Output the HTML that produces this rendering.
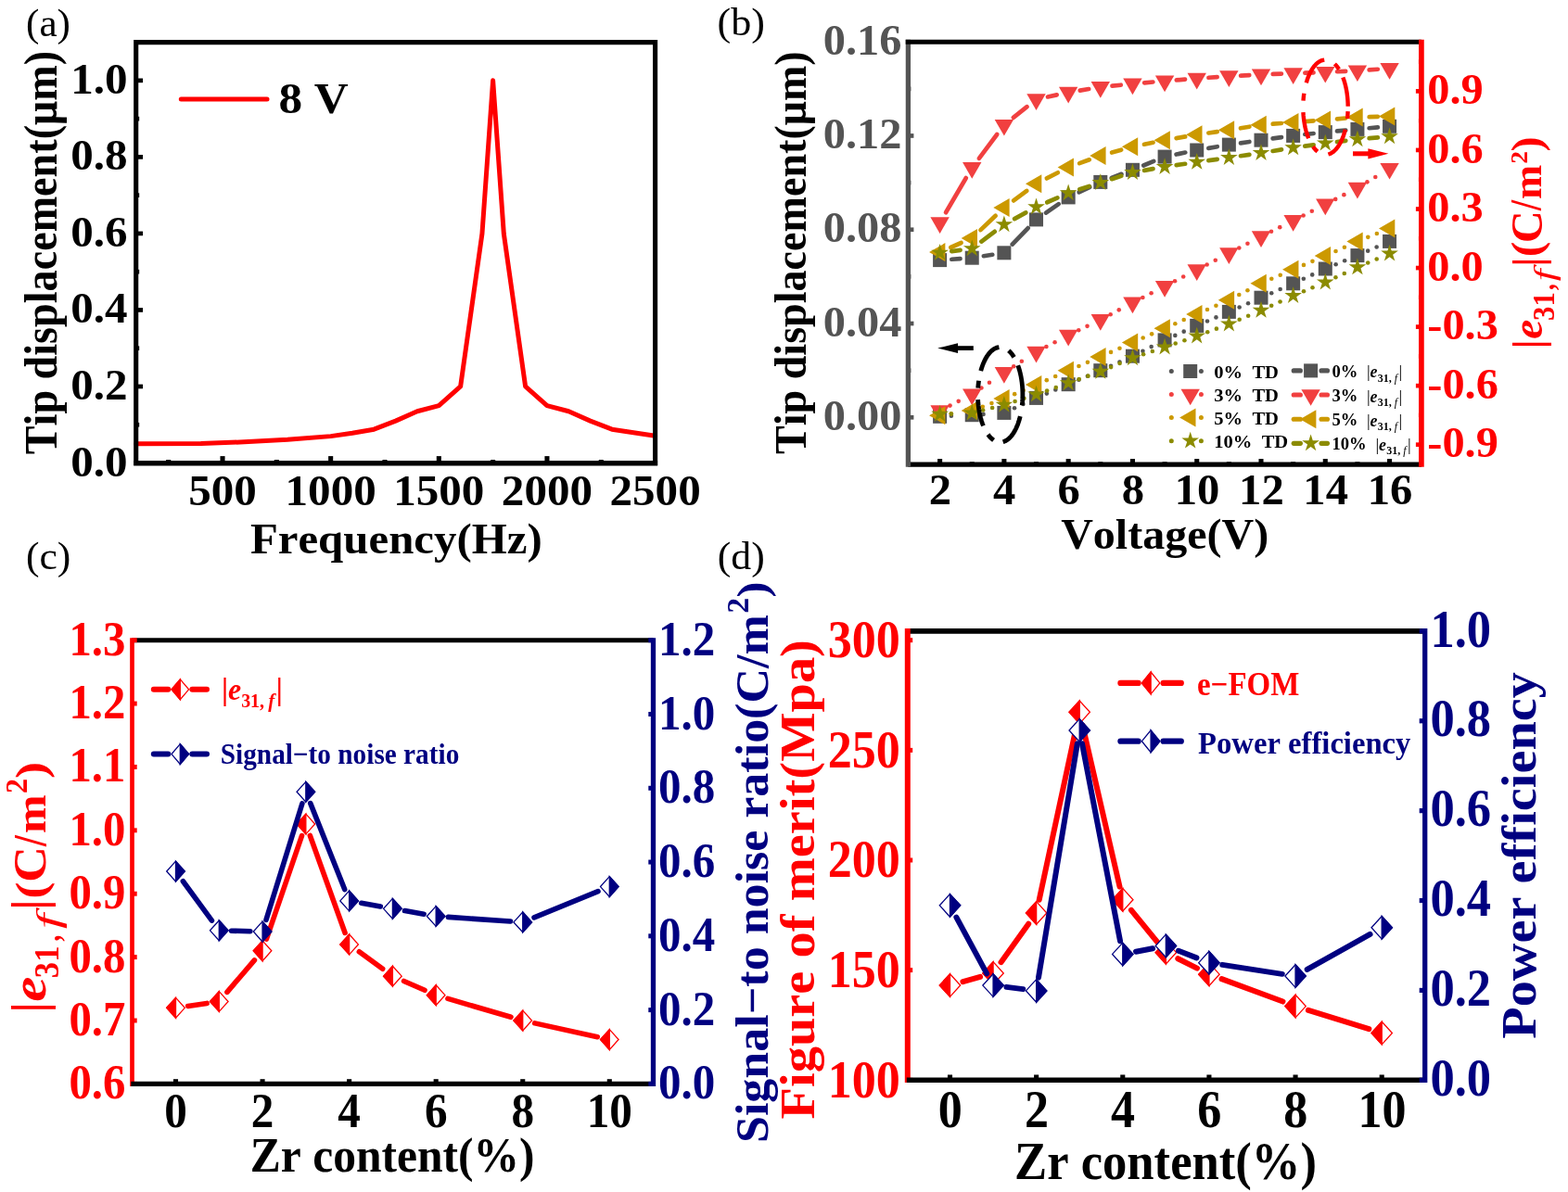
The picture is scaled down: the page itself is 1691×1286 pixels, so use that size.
<!DOCTYPE html>
<html lang="en">
<head>
<meta charset="utf-8">
<title>Figure</title>
<style>
html,body{margin:0;padding:0;background:#fff;}
body{width:1691px;height:1286px;overflow:hidden;}
svg{display:block;}
svg text{font-family:"Liberation Serif","DejaVu Serif",serif;white-space:pre;font-kerning:none;}
</style>
</head>
<body>
<svg width="1691" height="1286" viewBox="0 0 1691 1286">
<rect width="1691" height="1286" fill="#ffffff"/>
<g font-weight="bold" text-anchor="middle" fill="#000">
<polyline points="146.7,478.87 216.69,478.46 263.35,476.81 310,474.33 356.66,470.62 379.99,467.31 403.32,463.19 426.65,454.11 449.98,443.79 473.31,437.6 496.64,416.97 519.97,251.92 531.63,86.86 543.3,251.92 566.62,416.97 589.95,437.6 613.28,443.79 636.61,454.11 659.94,463.19 706.6,470.2" fill="none" stroke="#ff0000" stroke-width="5" stroke-linejoin="round" stroke-linecap="round"/>
<line x1="240.02" y1="499.5" x2="240.02" y2="492.1" stroke="#000000" stroke-width="5.1" />
<line x1="356.66" y1="499.5" x2="356.66" y2="492.1" stroke="#000000" stroke-width="5.1" />
<line x1="473.31" y1="499.5" x2="473.31" y2="492.1" stroke="#000000" stroke-width="5.1" />
<line x1="589.95" y1="499.5" x2="589.95" y2="492.1" stroke="#000000" stroke-width="5.1" />
<line x1="181.69" y1="499.5" x2="181.69" y2="496" stroke="#000000" stroke-width="5.1" />
<line x1="298.34" y1="499.5" x2="298.34" y2="496" stroke="#000000" stroke-width="5.1" />
<line x1="414.99" y1="499.5" x2="414.99" y2="496" stroke="#000000" stroke-width="5.1" />
<line x1="531.63" y1="499.5" x2="531.63" y2="496" stroke="#000000" stroke-width="5.1" />
<line x1="648.28" y1="499.5" x2="648.28" y2="496" stroke="#000000" stroke-width="5.1" />
<line x1="146.7" y1="416.97" x2="154.1" y2="416.97" stroke="#000000" stroke-width="4.7" />
<line x1="146.7" y1="334.45" x2="154.1" y2="334.45" stroke="#000000" stroke-width="4.7" />
<line x1="146.7" y1="251.92" x2="154.1" y2="251.92" stroke="#000000" stroke-width="4.7" />
<line x1="146.7" y1="169.39" x2="154.1" y2="169.39" stroke="#000000" stroke-width="4.7" />
<line x1="146.7" y1="86.86" x2="154.1" y2="86.86" stroke="#000000" stroke-width="4.7" />
<line x1="146.7" y1="458.24" x2="150.2" y2="458.24" stroke="#000000" stroke-width="4.7" />
<line x1="146.7" y1="375.71" x2="150.2" y2="375.71" stroke="#000000" stroke-width="4.7" />
<line x1="146.7" y1="293.18" x2="150.2" y2="293.18" stroke="#000000" stroke-width="4.7" />
<line x1="146.7" y1="210.65" x2="150.2" y2="210.65" stroke="#000000" stroke-width="4.7" />
<line x1="146.7" y1="128.13" x2="150.2" y2="128.13" stroke="#000000" stroke-width="4.7" />
<polygon points="146.7,45.6 706.6,45.6 706.6,499.5 146.7,499.5" fill="none" stroke="#000000" stroke-width="5.1" stroke-linejoin="miter"/>
<line x1="144.15" y1="499.8" x2="709.15" y2="499.8" stroke="#000000" stroke-width="5.6" />
<text transform="translate(240.02 545) scale(1.045 1)" font-size="47">500</text>
<text transform="translate(356.66 545) scale(1.045 1)" font-size="47">1000</text>
<text transform="translate(473.31 545) scale(1.045 1)" font-size="47">1500</text>
<text transform="translate(589.95 545) scale(1.045 1)" font-size="47">2000</text>
<text transform="translate(706.6 545) scale(1.045 1)" font-size="47">2500</text>
<text transform="translate(137.6 513.5) scale(1.045 1)" font-size="47" text-anchor="end">0.0</text>
<text transform="translate(137.6 430.97) scale(1.045 1)" font-size="47" text-anchor="end">0.2</text>
<text transform="translate(137.6 348.45) scale(1.045 1)" font-size="47" text-anchor="end">0.4</text>
<text transform="translate(137.6 265.92) scale(1.045 1)" font-size="47" text-anchor="end">0.6</text>
<text transform="translate(137.6 183.39) scale(1.045 1)" font-size="47" text-anchor="end">0.8</text>
<text transform="translate(137.6 100.86) scale(1.045 1)" font-size="47" text-anchor="end">1.0</text>
<text transform="translate(427.3 596.8) scale(1.04 1)" font-size="47">Frequency(Hz)</text>
<text transform="translate(61.2 272.6) rotate(-90) scale(0.931 1)" font-size="49.6">Tip displacement(μm)</text>
<line x1="195.3" y1="106.9" x2="288" y2="106.9" stroke="#ff0000" stroke-width="5" stroke-linecap="round"/>
<text transform="translate(300.4 122.3) scale(1.1 1)" font-size="46.5" text-anchor="start">8 V</text>
<text transform="translate(28 38.8) scale(1.05 1)" font-size="41.2" text-anchor="start" font-weight="normal">(a)</text>
<g>
<circle cx="1025.89" cy="448.73" r="2.3" fill="#545454"/>
<circle cx="1060.51" cy="446.89" r="2.3" fill="#545454"/>
<circle cx="1094.05" cy="440.24" r="2.3" fill="#545454"/>
<circle cx="1103.4" cy="435.92" r="2.3" fill="#545454"/>
<circle cx="1128.84" cy="424.6" r="2.3" fill="#545454"/>
<circle cx="1138.32" cy="420.57" r="2.3" fill="#545454"/>
<circle cx="1163.45" cy="409.81" r="2.3" fill="#545454"/>
<circle cx="1172.9" cy="405.72" r="2.3" fill="#545454"/>
<circle cx="1198.03" cy="394.68" r="2.3" fill="#545454"/>
<circle cx="1207.43" cy="390.47" r="2.3" fill="#545454"/>
<circle cx="1232.44" cy="378.7" r="2.3" fill="#545454"/>
<circle cx="1241.66" cy="374.1" r="2.3" fill="#545454"/>
<circle cx="1267.31" cy="361.88" r="2.3" fill="#545454"/>
<circle cx="1276.71" cy="357.67" r="2.3" fill="#545454"/>
<circle cx="1302.01" cy="346.51" r="2.3" fill="#545454"/>
<circle cx="1311.46" cy="342.42" r="2.3" fill="#545454"/>
<circle cx="1336.62" cy="331.46" r="2.3" fill="#545454"/>
<circle cx="1346.06" cy="327.32" r="2.3" fill="#545454"/>
<circle cx="1371.24" cy="316.2" r="2.3" fill="#545454"/>
<circle cx="1380.65" cy="312.02" r="2.3" fill="#545454"/>
<circle cx="1405.83" cy="300.7" r="2.3" fill="#545454"/>
<circle cx="1415.2" cy="296.42" r="2.3" fill="#545454"/>
<circle cx="1440.64" cy="285.28" r="2.3" fill="#545454"/>
<circle cx="1450.15" cy="281.32" r="2.3" fill="#545454"/>
<circle cx="1475.18" cy="270.66" r="2.3" fill="#545454"/>
<circle cx="1484.62" cy="266.52" r="2.3" fill="#545454"/>
<rect x="1006.1" y="441.8" width="15" height="15" fill="#545454"/>
<rect x="1040.74" y="440.2" width="15" height="15" fill="#545454"/>
<rect x="1075.38" y="437.9" width="15" height="15" fill="#545454"/>
<rect x="1110.02" y="421.9" width="15" height="15" fill="#545454"/>
<rect x="1144.66" y="407.2" width="15" height="15" fill="#545454"/>
<rect x="1179.3" y="392.2" width="15" height="15" fill="#545454"/>
<rect x="1213.94" y="376.7" width="15" height="15" fill="#545454"/>
<rect x="1248.58" y="359.4" width="15" height="15" fill="#545454"/>
<rect x="1283.22" y="343.9" width="15" height="15" fill="#545454"/>
<rect x="1317.86" y="328.9" width="15" height="15" fill="#545454"/>
<rect x="1352.5" y="313.7" width="15" height="15" fill="#545454"/>
<rect x="1387.14" y="298.3" width="15" height="15" fill="#545454"/>
<rect x="1421.78" y="282.5" width="15" height="15" fill="#545454"/>
<rect x="1456.42" y="268.1" width="15" height="15" fill="#545454"/>
<rect x="1491.06" y="252.9" width="15" height="15" fill="#545454"/>
</g>
<g>
<circle cx="1024.54" cy="437.58" r="2.3" fill="#f14040"/>
<circle cx="1033.7" cy="432.87" r="2.3" fill="#f14040"/>
<circle cx="1058.43" cy="418.51" r="2.3" fill="#f14040"/>
<circle cx="1066.97" cy="412.75" r="2.3" fill="#f14040"/>
<circle cx="1093.21" cy="395.32" r="2.3" fill="#f14040"/>
<circle cx="1101.86" cy="389.73" r="2.3" fill="#f14040"/>
<circle cx="1128.43" cy="373.93" r="2.3" fill="#f14040"/>
<circle cx="1137.57" cy="369.18" r="2.3" fill="#f14040"/>
<circle cx="1163.25" cy="356.28" r="2.3" fill="#f14040"/>
<circle cx="1172.54" cy="351.83" r="2.3" fill="#f14040"/>
<circle cx="1197.65" cy="339.21" r="2.3" fill="#f14040"/>
<circle cx="1206.74" cy="334.35" r="2.3" fill="#f14040"/>
<circle cx="1232.41" cy="320.93" r="2.3" fill="#f14040"/>
<circle cx="1241.59" cy="316.26" r="2.3" fill="#f14040"/>
<circle cx="1267.02" cy="303.28" r="2.3" fill="#f14040"/>
<circle cx="1276.18" cy="298.57" r="2.3" fill="#f14040"/>
<circle cx="1301.63" cy="285.43" r="2.3" fill="#f14040"/>
<circle cx="1310.77" cy="280.68" r="2.3" fill="#f14040"/>
<circle cx="1336.29" cy="267.45" r="2.3" fill="#f14040"/>
<circle cx="1345.44" cy="262.72" r="2.3" fill="#f14040"/>
<circle cx="1371.02" cy="249.73" r="2.3" fill="#f14040"/>
<circle cx="1380.24" cy="245.15" r="2.3" fill="#f14040"/>
<circle cx="1405.62" cy="232.45" r="2.3" fill="#f14040"/>
<circle cx="1414.81" cy="227.81" r="2.3" fill="#f14040"/>
<circle cx="1440.22" cy="214.88" r="2.3" fill="#f14040"/>
<circle cx="1449.38" cy="210.17" r="2.3" fill="#f14040"/>
<circle cx="1474.45" cy="196.35" r="2.3" fill="#f14040"/>
<circle cx="1483.27" cy="191.02" r="2.3" fill="#f14040"/>
<polygon points="1003.4,437.31 1023.8,437.31 1013.6,454.98" fill="#f14040"/>
<polygon points="1038.04,419.51 1058.44,419.51 1048.24,437.18" fill="#f14040"/>
<polygon points="1072.68,396.11 1093.08,396.11 1082.88,413.78" fill="#f14040"/>
<polygon points="1107.32,373.71 1127.72,373.71 1117.52,391.38" fill="#f14040"/>
<polygon points="1141.96,355.71 1162.36,355.71 1152.16,373.38" fill="#f14040"/>
<polygon points="1176.6,339.11 1197,339.11 1186.8,356.78" fill="#f14040"/>
<polygon points="1211.24,320.61 1231.64,320.61 1221.44,338.28" fill="#f14040"/>
<polygon points="1245.88,303.01 1266.28,303.01 1256.08,320.68" fill="#f14040"/>
<polygon points="1280.52,285.21 1300.92,285.21 1290.72,302.88" fill="#f14040"/>
<polygon points="1315.16,267.21 1335.56,267.21 1325.36,284.88" fill="#f14040"/>
<polygon points="1349.8,249.31 1370.2,249.31 1360,266.98" fill="#f14040"/>
<polygon points="1384.44,232.11 1404.84,232.11 1394.64,249.78" fill="#f14040"/>
<polygon points="1419.08,214.61 1439.48,214.61 1429.28,232.28" fill="#f14040"/>
<polygon points="1453.72,196.81 1474.12,196.81 1463.92,214.48" fill="#f14040"/>
<polygon points="1488.36,175.91 1508.76,175.91 1498.56,193.58" fill="#f14040"/>
</g>
<g>
<circle cx="1025.76" cy="446.37" r="2.3" fill="#cc9900"/>
<circle cx="1059.76" cy="438.68" r="2.3" fill="#cc9900"/>
<circle cx="1069.4" cy="435.06" r="2.3" fill="#cc9900"/>
<circle cx="1094.18" cy="425.14" r="2.3" fill="#cc9900"/>
<circle cx="1103.64" cy="421.07" r="2.3" fill="#cc9900"/>
<circle cx="1128.77" cy="410.13" r="2.3" fill="#cc9900"/>
<circle cx="1138.19" cy="405.97" r="2.3" fill="#cc9900"/>
<circle cx="1163.46" cy="394.94" r="2.3" fill="#cc9900"/>
<circle cx="1172.92" cy="390.87" r="2.3" fill="#cc9900"/>
<circle cx="1198.04" cy="379.9" r="2.3" fill="#cc9900"/>
<circle cx="1207.45" cy="375.72" r="2.3" fill="#cc9900"/>
<circle cx="1232.69" cy="364.53" r="2.3" fill="#cc9900"/>
<circle cx="1242.11" cy="360.37" r="2.3" fill="#cc9900"/>
<circle cx="1267.33" cy="349.23" r="2.3" fill="#cc9900"/>
<circle cx="1276.75" cy="345.07" r="2.3" fill="#cc9900"/>
<circle cx="1301.98" cy="333.96" r="2.3" fill="#cc9900"/>
<circle cx="1311.42" cy="329.82" r="2.3" fill="#cc9900"/>
<circle cx="1336.27" cy="318.03" r="2.3" fill="#cc9900"/>
<circle cx="1345.41" cy="313.28" r="2.3" fill="#cc9900"/>
<circle cx="1371.29" cy="300.81" r="2.3" fill="#cc9900"/>
<circle cx="1380.74" cy="296.72" r="2.3" fill="#cc9900"/>
<circle cx="1405.96" cy="285.9" r="2.3" fill="#cc9900"/>
<circle cx="1415.44" cy="281.87" r="2.3" fill="#cc9900"/>
<circle cx="1440.51" cy="270.98" r="2.3" fill="#cc9900"/>
<circle cx="1449.91" cy="266.77" r="2.3" fill="#cc9900"/>
<circle cx="1475.31" cy="255.86" r="2.3" fill="#cc9900"/>
<circle cx="1484.85" cy="251.98" r="2.3" fill="#cc9900"/>
<polygon points="1019.37,438.2 1019.37,458.2 1002.05,448.2" fill="#cc9900"/>
<polygon points="1054.01,433 1054.01,453 1036.69,443" fill="#cc9900"/>
<polygon points="1088.65,420 1088.65,440 1071.33,430" fill="#cc9900"/>
<polygon points="1123.29,405.1 1123.29,425.1 1105.97,415.1" fill="#cc9900"/>
<polygon points="1157.93,389.8 1157.93,409.8 1140.61,399.8" fill="#cc9900"/>
<polygon points="1192.57,374.9 1192.57,394.9 1175.25,384.9" fill="#cc9900"/>
<polygon points="1227.21,359.5 1227.21,379.5 1209.89,369.5" fill="#cc9900"/>
<polygon points="1261.85,344.2 1261.85,364.2 1244.53,354.2" fill="#cc9900"/>
<polygon points="1296.49,328.9 1296.49,348.9 1279.17,338.9" fill="#cc9900"/>
<polygon points="1331.13,313.7 1331.13,333.7 1313.81,323.7" fill="#cc9900"/>
<polygon points="1365.77,295.7 1365.77,315.7 1348.45,305.7" fill="#cc9900"/>
<polygon points="1400.41,280.7 1400.41,300.7 1383.09,290.7" fill="#cc9900"/>
<polygon points="1435.05,266 1435.05,286 1417.73,276" fill="#cc9900"/>
<polygon points="1469.69,250.5 1469.69,270.5 1452.37,260.5" fill="#cc9900"/>
<polygon points="1504.33,236.4 1504.33,256.4 1487.01,246.4" fill="#cc9900"/>
</g>
<g>
<circle cx="1025.89" cy="446.44" r="2.3" fill="#8b8b00"/>
<circle cx="1060.15" cy="442.54" r="2.3" fill="#8b8b00"/>
<circle cx="1070.13" cy="439.98" r="2.3" fill="#8b8b00"/>
<circle cx="1094.59" cy="432.95" r="2.3" fill="#8b8b00"/>
<circle cx="1104.4" cy="429.8" r="2.3" fill="#8b8b00"/>
<circle cx="1129.1" cy="421.45" r="2.3" fill="#8b8b00"/>
<circle cx="1138.8" cy="417.98" r="2.3" fill="#8b8b00"/>
<circle cx="1163.75" cy="409.08" r="2.3" fill="#8b8b00"/>
<circle cx="1173.46" cy="405.64" r="2.3" fill="#8b8b00"/>
<circle cx="1198.12" cy="396.1" r="2.3" fill="#8b8b00"/>
<circle cx="1207.6" cy="392.07" r="2.3" fill="#8b8b00"/>
<circle cx="1233.1" cy="382.29" r="2.3" fill="#8b8b00"/>
<circle cx="1242.87" cy="379.02" r="2.3" fill="#8b8b00"/>
<circle cx="1267.7" cy="370.57" r="2.3" fill="#8b8b00"/>
<circle cx="1277.43" cy="367.2" r="2.3" fill="#8b8b00"/>
<circle cx="1302.24" cy="358.28" r="2.3" fill="#8b8b00"/>
<circle cx="1311.88" cy="354.66" r="2.3" fill="#8b8b00"/>
<circle cx="1336.68" cy="344.8" r="2.3" fill="#8b8b00"/>
<circle cx="1346.16" cy="340.77" r="2.3" fill="#8b8b00"/>
<circle cx="1371.18" cy="329.77" r="2.3" fill="#8b8b00"/>
<circle cx="1380.54" cy="325.47" r="2.3" fill="#8b8b00"/>
<circle cx="1405.99" cy="314.25" r="2.3" fill="#8b8b00"/>
<circle cx="1415.49" cy="310.27" r="2.3" fill="#8b8b00"/>
<circle cx="1440.43" cy="299.32" r="2.3" fill="#8b8b00"/>
<circle cx="1449.77" cy="294.97" r="2.3" fill="#8b8b00"/>
<circle cx="1475.22" cy="283.54" r="2.3" fill="#8b8b00"/>
<circle cx="1484.68" cy="279.47" r="2.3" fill="#8b8b00"/>
<polygon points="1013.6,437.1 1015.8,443.87 1022.92,443.87 1017.16,448.06 1019.36,454.83 1013.6,450.64 1007.84,454.83 1010.04,448.06 1004.28,443.87 1011.4,443.87" fill="#8b8b00"/>
<polygon points="1048.24,435.8 1050.44,442.57 1057.56,442.57 1051.8,446.76 1054,453.53 1048.24,449.34 1042.48,453.53 1044.68,446.76 1038.92,442.57 1046.04,442.57" fill="#8b8b00"/>
<polygon points="1082.88,426.9 1085.08,433.67 1092.2,433.67 1086.44,437.86 1088.64,444.63 1082.88,440.44 1077.12,444.63 1079.32,437.86 1073.56,433.67 1080.68,433.67" fill="#8b8b00"/>
<polygon points="1117.52,415.8 1119.72,422.57 1126.84,422.57 1121.08,426.76 1123.28,433.53 1117.52,429.34 1111.76,433.53 1113.96,426.76 1108.2,422.57 1115.32,422.57" fill="#8b8b00"/>
<polygon points="1152.16,403.4 1154.36,410.17 1161.48,410.17 1155.72,414.36 1157.92,421.13 1152.16,416.94 1146.4,421.13 1148.6,414.36 1142.84,410.17 1149.96,410.17" fill="#8b8b00"/>
<polygon points="1186.8,391.1 1189,397.87 1196.12,397.87 1190.36,402.06 1192.56,408.83 1186.8,404.64 1181.04,408.83 1183.24,402.06 1177.48,397.87 1184.6,397.87" fill="#8b8b00"/>
<polygon points="1221.44,376.4 1223.64,383.17 1230.76,383.17 1225,387.36 1227.2,394.13 1221.44,389.94 1215.68,394.13 1217.88,387.36 1212.12,383.17 1219.24,383.17" fill="#8b8b00"/>
<polygon points="1256.08,364.8 1258.28,371.57 1265.4,371.57 1259.64,375.76 1261.84,382.53 1256.08,378.34 1250.32,382.53 1252.52,375.76 1246.76,371.57 1253.88,371.57" fill="#8b8b00"/>
<polygon points="1290.72,352.8 1292.92,359.57 1300.04,359.57 1294.28,363.76 1296.48,370.53 1290.72,366.34 1284.96,370.53 1287.16,363.76 1281.4,359.57 1288.52,359.57" fill="#8b8b00"/>
<polygon points="1325.36,339.8 1327.56,346.57 1334.68,346.57 1328.92,350.76 1331.12,357.53 1325.36,353.34 1319.6,357.53 1321.8,350.76 1316.04,346.57 1323.16,346.57" fill="#8b8b00"/>
<polygon points="1360,325.1 1362.2,331.87 1369.32,331.87 1363.56,336.06 1365.76,342.83 1360,338.64 1354.24,342.83 1356.44,336.06 1350.68,331.87 1357.8,331.87" fill="#8b8b00"/>
<polygon points="1394.64,309.2 1396.84,315.97 1403.96,315.97 1398.2,320.16 1400.4,326.93 1394.64,322.74 1388.88,326.93 1391.08,320.16 1385.32,315.97 1392.44,315.97" fill="#8b8b00"/>
<polygon points="1429.28,294.7 1431.48,301.47 1438.6,301.47 1432.84,305.66 1435.04,312.43 1429.28,308.24 1423.52,312.43 1425.72,305.66 1419.96,301.47 1427.08,301.47" fill="#8b8b00"/>
<polygon points="1463.92,278.6 1466.12,285.37 1473.24,285.37 1467.48,289.56 1469.68,296.33 1463.92,292.14 1458.16,296.33 1460.36,289.56 1454.6,285.37 1461.72,285.37" fill="#8b8b00"/>
<polygon points="1498.56,263.7 1500.76,270.47 1507.88,270.47 1502.12,274.66 1504.32,281.43 1498.56,277.24 1492.8,281.43 1495,274.66 1489.24,270.47 1496.36,270.47" fill="#8b8b00"/>
</g>
<g>
<line x1="1026.32" y1="279.72" x2="1035.52" y2="279.08" stroke="#545454" stroke-width="4.7" stroke-linecap="round"/>
<line x1="1060.84" y1="276.24" x2="1070.28" y2="274.76" stroke="#545454" stroke-width="4.7" stroke-linecap="round"/>
<line x1="1091.73" y1="263.62" x2="1108.67" y2="246.08" stroke="#545454" stroke-width="4.7" stroke-linecap="round"/>
<line x1="1128" y1="229.64" x2="1141.68" y2="220.16" stroke="#545454" stroke-width="4.7" stroke-linecap="round"/>
<line x1="1163.67" y1="207.42" x2="1175.29" y2="201.88" stroke="#545454" stroke-width="4.7" stroke-linecap="round"/>
<line x1="1198.73" y1="191.89" x2="1209.51" y2="187.81" stroke="#545454" stroke-width="4.7" stroke-linecap="round"/>
<line x1="1233.24" y1="178.46" x2="1244.28" y2="173.94" stroke="#545454" stroke-width="4.7" stroke-linecap="round"/>
<line x1="1268.57" y1="166.54" x2="1278.23" y2="164.56" stroke="#545454" stroke-width="4.7" stroke-linecap="round"/>
<line x1="1303.29" y1="159.86" x2="1312.79" y2="158.24" stroke="#545454" stroke-width="4.7" stroke-linecap="round"/>
<line x1="1337.98" y1="154.31" x2="1347.38" y2="152.99" stroke="#545454" stroke-width="4.7" stroke-linecap="round"/>
<line x1="1372.63" y1="149.45" x2="1382.01" y2="148.15" stroke="#545454" stroke-width="4.7" stroke-linecap="round"/>
<line x1="1407.31" y1="145.01" x2="1416.61" y2="143.99" stroke="#545454" stroke-width="4.7" stroke-linecap="round"/>
<line x1="1441.98" y1="141.43" x2="1451.22" y2="140.57" stroke="#545454" stroke-width="4.7" stroke-linecap="round"/>
<line x1="1476.62" y1="138.26" x2="1485.86" y2="137.44" stroke="#545454" stroke-width="4.7" stroke-linecap="round"/>
<rect x="1006.1" y="273.1" width="15" height="15" fill="#545454"/>
<rect x="1040.74" y="270.7" width="15" height="15" fill="#545454"/>
<rect x="1075.38" y="265.3" width="15" height="15" fill="#545454"/>
<rect x="1110.02" y="229.4" width="15" height="15" fill="#545454"/>
<rect x="1144.66" y="205.4" width="15" height="15" fill="#545454"/>
<rect x="1179.3" y="188.9" width="15" height="15" fill="#545454"/>
<rect x="1213.94" y="175.8" width="15" height="15" fill="#545454"/>
<rect x="1248.58" y="161.6" width="15" height="15" fill="#545454"/>
<rect x="1283.22" y="154.5" width="15" height="15" fill="#545454"/>
<rect x="1317.86" y="148.6" width="15" height="15" fill="#545454"/>
<rect x="1352.5" y="143.7" width="15" height="15" fill="#545454"/>
<rect x="1387.14" y="138.9" width="15" height="15" fill="#545454"/>
<rect x="1421.78" y="135.1" width="15" height="15" fill="#545454"/>
<rect x="1456.42" y="131.9" width="15" height="15" fill="#545454"/>
<rect x="1491.06" y="128.8" width="15" height="15" fill="#545454"/>
</g>
<g>
<line x1="1020.04" y1="229.2" x2="1041.8" y2="192" stroke="#f14040" stroke-width="4.7" stroke-linecap="round"/>
<line x1="1055.89" y1="170.8" x2="1075.23" y2="145" stroke="#f14040" stroke-width="4.7" stroke-linecap="round"/>
<line x1="1092.85" y1="126.85" x2="1107.55" y2="115.15" stroke="#f14040" stroke-width="4.7" stroke-linecap="round"/>
<line x1="1129.97" y1="104.47" x2="1139.71" y2="102.33" stroke="#f14040" stroke-width="4.7" stroke-linecap="round"/>
<line x1="1164.75" y1="97.57" x2="1174.21" y2="96.03" stroke="#f14040" stroke-width="4.7" stroke-linecap="round"/>
<line x1="1199.48" y1="92.68" x2="1208.76" y2="91.72" stroke="#f14040" stroke-width="4.7" stroke-linecap="round"/>
<line x1="1234.14" y1="89.3" x2="1243.38" y2="88.5" stroke="#f14040" stroke-width="4.7" stroke-linecap="round"/>
<line x1="1268.79" y1="86.37" x2="1278.01" y2="85.63" stroke="#f14040" stroke-width="4.7" stroke-linecap="round"/>
<line x1="1303.44" y1="83.72" x2="1312.64" y2="83.08" stroke="#f14040" stroke-width="4.7" stroke-linecap="round"/>
<line x1="1338.09" y1="81.54" x2="1347.27" y2="81.06" stroke="#f14040" stroke-width="4.7" stroke-linecap="round"/>
<line x1="1372.74" y1="79.92" x2="1381.9" y2="79.58" stroke="#f14040" stroke-width="4.7" stroke-linecap="round"/>
<line x1="1407.38" y1="78.62" x2="1416.54" y2="78.28" stroke="#f14040" stroke-width="4.7" stroke-linecap="round"/>
<line x1="1442.02" y1="77.25" x2="1451.18" y2="76.85" stroke="#f14040" stroke-width="4.7" stroke-linecap="round"/>
<line x1="1476.64" y1="75.42" x2="1485.84" y2="74.78" stroke="#f14040" stroke-width="4.7" stroke-linecap="round"/>
<polygon points="1003.4,234.31 1023.8,234.31 1013.6,251.98" fill="#f14040"/>
<polygon points="1038.04,175.11 1058.44,175.11 1048.24,192.78" fill="#f14040"/>
<polygon points="1072.68,128.91 1093.08,128.91 1082.88,146.58" fill="#f14040"/>
<polygon points="1107.32,101.31 1127.72,101.31 1117.52,118.98" fill="#f14040"/>
<polygon points="1141.96,93.71 1162.36,93.71 1152.16,111.38" fill="#f14040"/>
<polygon points="1176.6,88.11 1197,88.11 1186.8,105.78" fill="#f14040"/>
<polygon points="1211.24,84.51 1231.64,84.51 1221.44,102.18" fill="#f14040"/>
<polygon points="1245.88,81.51 1266.28,81.51 1256.08,99.18" fill="#f14040"/>
<polygon points="1280.52,78.71 1300.92,78.71 1290.72,96.38" fill="#f14040"/>
<polygon points="1315.16,76.31 1335.56,76.31 1325.36,93.98" fill="#f14040"/>
<polygon points="1349.8,74.51 1370.2,74.51 1360,92.18" fill="#f14040"/>
<polygon points="1384.44,73.21 1404.84,73.21 1394.64,90.88" fill="#f14040"/>
<polygon points="1419.08,71.91 1439.48,71.91 1429.28,89.58" fill="#f14040"/>
<polygon points="1453.72,70.41 1474.12,70.41 1463.92,88.08" fill="#f14040"/>
<polygon points="1488.36,68.01 1508.76,68.01 1498.56,85.68" fill="#f14040"/>
</g>
<g>
<line x1="1025.28" y1="266.98" x2="1036.56" y2="262.02" stroke="#cc9900" stroke-width="4.7" stroke-linecap="round"/>
<line x1="1057.48" y1="248.12" x2="1073.64" y2="232.78" stroke="#cc9900" stroke-width="4.7" stroke-linecap="round"/>
<line x1="1093.12" y1="216.4" x2="1107.28" y2="205.9" stroke="#cc9900" stroke-width="4.7" stroke-linecap="round"/>
<line x1="1128.85" y1="192.45" x2="1140.83" y2="186.25" stroke="#cc9900" stroke-width="4.7" stroke-linecap="round"/>
<line x1="1164.16" y1="176.1" x2="1174.8" y2="172.3" stroke="#cc9900" stroke-width="4.7" stroke-linecap="round"/>
<line x1="1199.08" y1="164.56" x2="1209.16" y2="161.74" stroke="#cc9900" stroke-width="4.7" stroke-linecap="round"/>
<line x1="1233.93" y1="155.74" x2="1243.59" y2="153.76" stroke="#cc9900" stroke-width="4.7" stroke-linecap="round"/>
<line x1="1268.65" y1="149.06" x2="1278.15" y2="147.44" stroke="#cc9900" stroke-width="4.7" stroke-linecap="round"/>
<line x1="1303.34" y1="143.48" x2="1312.74" y2="142.12" stroke="#cc9900" stroke-width="4.7" stroke-linecap="round"/>
<line x1="1337.95" y1="138.27" x2="1347.41" y2="136.73" stroke="#cc9900" stroke-width="4.7" stroke-linecap="round"/>
<line x1="1372.71" y1="133.71" x2="1381.93" y2="132.99" stroke="#cc9900" stroke-width="4.7" stroke-linecap="round"/>
<line x1="1407.35" y1="131.05" x2="1416.57" y2="130.35" stroke="#cc9900" stroke-width="4.7" stroke-linecap="round"/>
<line x1="1441.98" y1="128.3" x2="1451.22" y2="127.5" stroke="#cc9900" stroke-width="4.7" stroke-linecap="round"/>
<line x1="1476.67" y1="126.07" x2="1485.81" y2="125.83" stroke="#cc9900" stroke-width="4.7" stroke-linecap="round"/>
<polygon points="1019.37,262.1 1019.37,282.1 1002.05,272.1" fill="#cc9900"/>
<polygon points="1054.01,246.9 1054.01,266.9 1036.69,256.9" fill="#cc9900"/>
<polygon points="1088.65,214 1088.65,234 1071.33,224" fill="#cc9900"/>
<polygon points="1123.29,188.3 1123.29,208.3 1105.97,198.3" fill="#cc9900"/>
<polygon points="1157.93,170.4 1157.93,190.4 1140.61,180.4" fill="#cc9900"/>
<polygon points="1192.57,158 1192.57,178 1175.25,168" fill="#cc9900"/>
<polygon points="1227.21,148.3 1227.21,168.3 1209.89,158.3" fill="#cc9900"/>
<polygon points="1261.85,141.2 1261.85,161.2 1244.53,151.2" fill="#cc9900"/>
<polygon points="1296.49,135.3 1296.49,155.3 1279.17,145.3" fill="#cc9900"/>
<polygon points="1331.13,130.3 1331.13,150.3 1313.81,140.3" fill="#cc9900"/>
<polygon points="1365.77,124.7 1365.77,144.7 1348.45,134.7" fill="#cc9900"/>
<polygon points="1400.41,122 1400.41,142 1383.09,132" fill="#cc9900"/>
<polygon points="1435.05,119.4 1435.05,139.4 1417.73,129.4" fill="#cc9900"/>
<polygon points="1469.69,116.4 1469.69,136.4 1452.37,126.4" fill="#cc9900"/>
<polygon points="1504.33,115.5 1504.33,135.5 1487.01,125.5" fill="#cc9900"/>
</g>
<g>
<line x1="1026.24" y1="271.06" x2="1035.6" y2="269.84" stroke="#8b8b00" stroke-width="4.7" stroke-linecap="round"/>
<line x1="1058.44" y1="260.55" x2="1072.68" y2="249.85" stroke="#8b8b00" stroke-width="4.7" stroke-linecap="round"/>
<line x1="1094.07" y1="236.09" x2="1106.33" y2="229.41" stroke="#8b8b00" stroke-width="4.7" stroke-linecap="round"/>
<line x1="1129.22" y1="218.23" x2="1140.46" y2="213.37" stroke="#8b8b00" stroke-width="4.7" stroke-linecap="round"/>
<line x1="1164.28" y1="204.35" x2="1174.68" y2="200.95" stroke="#8b8b00" stroke-width="4.7" stroke-linecap="round"/>
<line x1="1198.95" y1="193.14" x2="1209.29" y2="189.86" stroke="#8b8b00" stroke-width="4.7" stroke-linecap="round"/>
<line x1="1234" y1="183.82" x2="1243.52" y2="182.18" stroke="#8b8b00" stroke-width="4.7" stroke-linecap="round"/>
<line x1="1268.69" y1="178.14" x2="1278.11" y2="176.76" stroke="#8b8b00" stroke-width="4.7" stroke-linecap="round"/>
<line x1="1303.35" y1="173.15" x2="1312.73" y2="171.85" stroke="#8b8b00" stroke-width="4.7" stroke-linecap="round"/>
<line x1="1337.97" y1="168.24" x2="1347.39" y2="166.86" stroke="#8b8b00" stroke-width="4.7" stroke-linecap="round"/>
<line x1="1372.59" y1="162.97" x2="1382.05" y2="161.43" stroke="#8b8b00" stroke-width="4.7" stroke-linecap="round"/>
<line x1="1407.27" y1="157.65" x2="1416.65" y2="156.35" stroke="#8b8b00" stroke-width="4.7" stroke-linecap="round"/>
<line x1="1441.93" y1="153.03" x2="1451.27" y2="151.87" stroke="#8b8b00" stroke-width="4.7" stroke-linecap="round"/>
<line x1="1476.62" y1="149.2" x2="1485.86" y2="148.4" stroke="#8b8b00" stroke-width="4.7" stroke-linecap="round"/>
<polygon points="1013.6,262.9 1015.8,269.67 1022.92,269.67 1017.16,273.86 1019.36,280.63 1013.6,276.44 1007.84,280.63 1010.04,273.86 1004.28,269.67 1011.4,269.67" fill="#8b8b00"/>
<polygon points="1048.24,258.4 1050.44,265.17 1057.56,265.17 1051.8,269.36 1054,276.13 1048.24,271.94 1042.48,276.13 1044.68,269.36 1038.92,265.17 1046.04,265.17" fill="#8b8b00"/>
<polygon points="1082.88,232.4 1085.08,239.17 1092.2,239.17 1086.44,243.36 1088.64,250.13 1082.88,245.94 1077.12,250.13 1079.32,243.36 1073.56,239.17 1080.68,239.17" fill="#8b8b00"/>
<polygon points="1117.52,213.5 1119.72,220.27 1126.84,220.27 1121.08,224.46 1123.28,231.23 1117.52,227.04 1111.76,231.23 1113.96,224.46 1108.2,220.27 1115.32,220.27" fill="#8b8b00"/>
<polygon points="1152.16,198.5 1154.36,205.27 1161.48,205.27 1155.72,209.46 1157.92,216.23 1152.16,212.04 1146.4,216.23 1148.6,209.46 1142.84,205.27 1149.96,205.27" fill="#8b8b00"/>
<polygon points="1186.8,187.2 1189,193.97 1196.12,193.97 1190.36,198.16 1192.56,204.93 1186.8,200.74 1181.04,204.93 1183.24,198.16 1177.48,193.97 1184.6,193.97" fill="#8b8b00"/>
<polygon points="1221.44,176.2 1223.64,182.97 1230.76,182.97 1225,187.16 1227.2,193.93 1221.44,189.74 1215.68,193.93 1217.88,187.16 1212.12,182.97 1219.24,182.97" fill="#8b8b00"/>
<polygon points="1256.08,170.2 1258.28,176.97 1265.4,176.97 1259.64,181.16 1261.84,187.93 1256.08,183.74 1250.32,187.93 1252.52,181.16 1246.76,176.97 1253.88,176.97" fill="#8b8b00"/>
<polygon points="1290.72,165.1 1292.92,171.87 1300.04,171.87 1294.28,176.06 1296.48,182.83 1290.72,178.64 1284.96,182.83 1287.16,176.06 1281.4,171.87 1288.52,171.87" fill="#8b8b00"/>
<polygon points="1325.36,160.3 1327.56,167.07 1334.68,167.07 1328.92,171.26 1331.12,178.03 1325.36,173.84 1319.6,178.03 1321.8,171.26 1316.04,167.07 1323.16,167.07" fill="#8b8b00"/>
<polygon points="1360,155.2 1362.2,161.97 1369.32,161.97 1363.56,166.16 1365.76,172.93 1360,168.74 1354.24,172.93 1356.44,166.16 1350.68,161.97 1357.8,161.97" fill="#8b8b00"/>
<polygon points="1394.64,149.6 1396.84,156.37 1403.96,156.37 1398.2,160.56 1400.4,167.33 1394.64,163.14 1388.88,167.33 1391.08,160.56 1385.32,156.37 1392.44,156.37" fill="#8b8b00"/>
<polygon points="1429.28,144.8 1431.48,151.57 1438.6,151.57 1432.84,155.76 1435.04,162.53 1429.28,158.34 1423.52,162.53 1425.72,155.76 1419.96,151.57 1427.08,151.57" fill="#8b8b00"/>
<polygon points="1463.92,140.5 1466.12,147.27 1473.24,147.27 1467.48,151.46 1469.68,158.23 1463.92,154.04 1458.16,158.23 1460.36,151.46 1454.6,147.27 1461.72,147.27" fill="#8b8b00"/>
<polygon points="1498.56,137.5 1500.76,144.27 1507.88,144.27 1502.12,148.46 1504.32,155.23 1498.56,151.04 1492.8,155.23 1495,148.46 1489.24,144.27 1496.36,144.27" fill="#8b8b00"/>
</g>
<polyline points="1428.23,64.57 1426.66,64.85 1425.1,65.35 1423.56,66.06 1422.05,66.99 1420.57,68.12 1419.12,69.45 1417.72,70.98 1416.37,72.7 1415.07,74.6 1413.84,76.67 1412.67,78.91 1411.57,81.31 1410.55,83.85 1409.61,86.53 1408.76,89.33" fill="none" stroke="#ff0000" stroke-width="4.4" stroke-linejoin="round"/>
<polyline points="1406.36,100.73 1406.02,103.31 1405.74,105.93 1405.54,108.57" fill="none" stroke="#ff0000" stroke-width="4.4" stroke-linejoin="round"/>
<polyline points="1405.43,121.05 1405.66,124.49 1406,127.89 1406.44,131.24 1406.99,134.51 1407.65,137.7 1408.4,140.78 1409.26,143.75 1410.2,146.59 1411.24,149.29" fill="none" stroke="#ff0000" stroke-width="4.4" stroke-linejoin="round"/>
<polyline points="1415.97,158.15 1417.13,159.7 1418.33,161.11 1419.56,162.38 1420.83,163.5" fill="none" stroke="#ff0000" stroke-width="4.4" stroke-linejoin="round"/>
<polyline points="1432.45,166.52 1434.09,165.97 1435.71,165.19 1437.29,164.17 1438.84,162.93 1440.35,161.46 1441.81,159.78 1443.21,157.9 1444.54,155.81 1445.8,153.53 1446.99,151.08 1448.1,148.46 1449.11,145.69 1450.04,142.78 1450.87,139.74" fill="none" stroke="#ff0000" stroke-width="4.4" stroke-linejoin="round"/>
<polyline points="1452.98,128.09 1453.26,125.47 1453.46,122.83 1453.61,120.16" fill="none" stroke="#ff0000" stroke-width="4.4" stroke-linejoin="round"/>
<polyline points="1453.7,114.81 1453.62,111.42 1453.43,108.04 1453.14,104.71 1452.74,101.42 1452.24,98.19 1451.64,95.04 1450.95,91.98 1450.16,89.02 1449.27,86.19 1448.31,83.48" fill="none" stroke="#ff0000" stroke-width="4.4" stroke-linejoin="round"/>
<polyline points="1444.06,74.81 1442.94,73.13 1441.78,71.58 1440.58,70.18 1439.34,68.93" fill="none" stroke="#ff0000" stroke-width="4.4" stroke-linejoin="round"/>
<polyline points="1077.43,374.57 1075.83,374.86 1074.25,375.38 1072.68,376.11 1071.14,377.07 1069.63,378.24 1068.17,379.61 1066.75,381.19 1065.38,382.97 1064.07,384.94 1062.82,387.08 1061.65,389.4 1060.55,391.87 1059.53,394.5 1058.59,397.26 1057.74,400.15" fill="none" stroke="#000000" stroke-width="4.8" stroke-linejoin="round"/>
<polyline points="1055.56,410.8 1055.22,413.39 1054.94,416.01 1054.74,418.66" fill="none" stroke="#000000" stroke-width="4.8" stroke-linejoin="round"/>
<polyline points="1054.63,431.16 1054.86,434.61 1055.2,438.02 1055.64,441.37 1056.19,444.65 1056.85,447.84 1057.6,450.93 1058.46,453.91 1059.4,456.75 1060.44,459.46" fill="none" stroke="#000000" stroke-width="4.8" stroke-linejoin="round"/>
<polyline points="1065.52,468.82 1066.67,470.32 1067.86,471.67 1069.09,472.88 1070.34,473.94 1071.62,474.86" fill="none" stroke="#000000" stroke-width="4.8" stroke-linejoin="round"/>
<polyline points="1081.65,476.72 1083.21,476.2 1084.75,475.47 1086.26,474.53 1087.74,473.39 1089.18,472.04 1090.58,470.49 1091.93,468.76 1093.22,466.84 1094.45,464.75 1095.61,462.49 1096.7,460.08 1097.72,457.52 1098.65,454.83 1099.5,452.02 1100.26,449.09" fill="none" stroke="#000000" stroke-width="4.8" stroke-linejoin="round"/>
<polyline points="1102.28,437.34 1102.6,433.89 1102.8,430.41 1102.89,426.9 1102.87,423.39 1102.74,419.89 1102.49,416.42 1102.13,412.99 1101.66,409.62 1101.09,406.33 1100.41,403.13 1099.63,400.03 1098.74,397.06 1097.77,394.22" fill="none" stroke="#000000" stroke-width="4.8" stroke-linejoin="round"/>
<polyline points="1093.6,385.38 1092.51,383.68 1091.38,382.11 1090.21,380.67 1089,379.38 1087.77,378.24" fill="none" stroke="#000000" stroke-width="4.8" stroke-linejoin="round"/>
<line x1="1049.8" y1="375.6" x2="1030.81" y2="375.6" stroke="#000000" stroke-width="4.8" />
<polygon points="1011.1,375.6 1033,370.2 1033,381" fill="#000000"/>
<line x1="1459" y1="165.8" x2="1477.6" y2="165.8" stroke="#ff0000" stroke-width="5" />
<polygon points="1497.4,165.8 1475.4,160.2 1475.4,171.4" fill="#ff0000"/>
<line x1="1013.6" y1="501.1" x2="1013.6" y2="495.1" stroke="#000000" stroke-width="5.1" />
<line x1="1082.88" y1="501.1" x2="1082.88" y2="495.1" stroke="#000000" stroke-width="5.1" />
<line x1="1152.16" y1="501.1" x2="1152.16" y2="495.1" stroke="#000000" stroke-width="5.1" />
<line x1="1221.44" y1="501.1" x2="1221.44" y2="495.1" stroke="#000000" stroke-width="5.1" />
<line x1="1290.72" y1="501.1" x2="1290.72" y2="495.1" stroke="#000000" stroke-width="5.1" />
<line x1="1360" y1="501.1" x2="1360" y2="495.1" stroke="#000000" stroke-width="5.1" />
<line x1="1429.28" y1="501.1" x2="1429.28" y2="495.1" stroke="#000000" stroke-width="5.1" />
<line x1="1498.56" y1="501.1" x2="1498.56" y2="495.1" stroke="#000000" stroke-width="5.1" />
<line x1="1048.24" y1="501.1" x2="1048.24" y2="498.3" stroke="#000000" stroke-width="5.1" />
<line x1="1117.52" y1="501.1" x2="1117.52" y2="498.3" stroke="#000000" stroke-width="5.1" />
<line x1="1186.8" y1="501.1" x2="1186.8" y2="498.3" stroke="#000000" stroke-width="5.1" />
<line x1="1256.08" y1="501.1" x2="1256.08" y2="498.3" stroke="#000000" stroke-width="5.1" />
<line x1="1325.36" y1="501.1" x2="1325.36" y2="498.3" stroke="#000000" stroke-width="5.1" />
<line x1="1394.64" y1="501.1" x2="1394.64" y2="498.3" stroke="#000000" stroke-width="5.1" />
<line x1="1463.92" y1="501.1" x2="1463.92" y2="498.3" stroke="#000000" stroke-width="5.1" />
<line x1="979.4" y1="450.3" x2="985.4" y2="450.3" stroke="#545454" stroke-width="4.7" />
<line x1="979.4" y1="349.02" x2="985.4" y2="349.02" stroke="#545454" stroke-width="4.7" />
<line x1="979.4" y1="247.75" x2="985.4" y2="247.75" stroke="#545454" stroke-width="4.7" />
<line x1="979.4" y1="146.47" x2="985.4" y2="146.47" stroke="#545454" stroke-width="4.7" />
<line x1="979.4" y1="500.94" x2="982.4" y2="500.94" stroke="#545454" stroke-width="4.7" />
<line x1="979.4" y1="399.66" x2="982.4" y2="399.66" stroke="#545454" stroke-width="4.7" />
<line x1="979.4" y1="298.39" x2="982.4" y2="298.39" stroke="#545454" stroke-width="4.7" />
<line x1="979.4" y1="197.11" x2="982.4" y2="197.11" stroke="#545454" stroke-width="4.7" />
<line x1="979.4" y1="95.84" x2="982.4" y2="95.84" stroke="#545454" stroke-width="4.7" />
<line x1="1532.9" y1="98.4" x2="1526.9" y2="98.4" stroke="#ff0000" stroke-width="4.7" />
<line x1="1532.9" y1="161.95" x2="1526.9" y2="161.95" stroke="#ff0000" stroke-width="4.7" />
<line x1="1532.9" y1="225.5" x2="1526.9" y2="225.5" stroke="#ff0000" stroke-width="4.7" />
<line x1="1532.9" y1="289.05" x2="1526.9" y2="289.05" stroke="#ff0000" stroke-width="4.7" />
<line x1="1532.9" y1="352.6" x2="1526.9" y2="352.6" stroke="#ff0000" stroke-width="4.7" />
<line x1="1532.9" y1="416.15" x2="1526.9" y2="416.15" stroke="#ff0000" stroke-width="4.7" />
<line x1="1532.9" y1="479.7" x2="1526.9" y2="479.7" stroke="#ff0000" stroke-width="4.7" />
<line x1="1532.9" y1="130.18" x2="1529.9" y2="130.18" stroke="#ff0000" stroke-width="4.7" />
<line x1="1532.9" y1="193.72" x2="1529.9" y2="193.72" stroke="#ff0000" stroke-width="4.7" />
<line x1="1532.9" y1="257.27" x2="1529.9" y2="257.27" stroke="#ff0000" stroke-width="4.7" />
<line x1="1532.9" y1="320.82" x2="1529.9" y2="320.82" stroke="#ff0000" stroke-width="4.7" />
<line x1="1532.9" y1="384.38" x2="1529.9" y2="384.38" stroke="#ff0000" stroke-width="4.7" />
<line x1="1532.9" y1="447.92" x2="1529.9" y2="447.92" stroke="#ff0000" stroke-width="4.7" />
<line x1="1532.9" y1="66.6" x2="1529.9" y2="66.6" stroke="#ff0000" stroke-width="4.7" />
<line x1="979.4" y1="501.1" x2="1532.9" y2="501.1" stroke="#000000" stroke-width="5.1" />
<line x1="979.4" y1="42.65" x2="979.4" y2="503.65" stroke="#545454" stroke-width="5.3" />
<line x1="976.7" y1="45.2" x2="1532.9" y2="45.2" stroke="#000000" stroke-width="5.1" />
<line x1="1532.9" y1="42.65" x2="1532.9" y2="503.65" stroke="#ff0000" stroke-width="5.7" />
<text transform="translate(1014 543.6) scale(1.035 1)" font-size="47">2</text>
<text transform="translate(1083.28 543.6) scale(1.035 1)" font-size="47">4</text>
<text transform="translate(1152.56 543.6) scale(1.035 1)" font-size="47">6</text>
<text transform="translate(1221.84 543.6) scale(1.035 1)" font-size="47">8</text>
<text transform="translate(1291.12 543.6) scale(1.035 1)" font-size="47">10</text>
<text transform="translate(1360.4 543.6) scale(1.035 1)" font-size="47">12</text>
<text transform="translate(1429.68 543.6) scale(1.035 1)" font-size="47">14</text>
<text transform="translate(1498.96 543.6) scale(1.035 1)" font-size="47">16</text>
<text transform="translate(972.5 463.9) scale(1.03 1)" font-size="47" fill="#545454" text-anchor="end">0.00</text>
<text transform="translate(972.5 362.62) scale(1.03 1)" font-size="47" fill="#545454" text-anchor="end">0.04</text>
<text transform="translate(972.5 261.35) scale(1.03 1)" font-size="47" fill="#545454" text-anchor="end">0.08</text>
<text transform="translate(972.5 160.07) scale(1.03 1)" font-size="47" fill="#545454" text-anchor="end">0.12</text>
<text transform="translate(972.5 58.8) scale(1.03 1)" font-size="47" fill="#545454" text-anchor="end">0.16</text>
<text transform="translate(1539.3 112) scale(1.03 1)" font-size="47" fill="#ff0000" text-anchor="start">0.9</text>
<text transform="translate(1539.3 175.55) scale(1.03 1)" font-size="47" fill="#ff0000" text-anchor="start">0.6</text>
<text transform="translate(1539.3 239.1) scale(1.03 1)" font-size="47" fill="#ff0000" text-anchor="start">0.3</text>
<text transform="translate(1539.3 302.65) scale(1.03 1)" font-size="47" fill="#ff0000" text-anchor="start">0.0</text>
<text transform="translate(1539.3 366.2) scale(1.03 1)" font-size="47" fill="#ff0000" text-anchor="start">-0.3</text>
<text transform="translate(1539.3 429.75) scale(1.03 1)" font-size="47" fill="#ff0000" text-anchor="start">-0.6</text>
<text transform="translate(1539.3 493.3) scale(1.03 1)" font-size="47" fill="#ff0000" text-anchor="start">-0.9</text>
<text transform="translate(1256.2 592.3) scale(1.04 1)" font-size="46.2">Voltage(V)</text>
<text transform="translate(869.4 272.7) rotate(-90) scale(0.93 1)" font-size="49.6">Tip displacement(μm)</text>
<g>
<text transform="translate(1662.71 376.47) rotate(-90) scale(1.000 1)" font-size="46.5" text-anchor="start" fill="#ff0000">|</text>
<text transform="translate(1663 365.76) rotate(-90) scale(1.028 1)" font-size="46.16" text-anchor="start" fill="#ff0000" font-style="italic">e</text>
<text transform="translate(1675.53 345.91) rotate(-90) scale(0.938 1)" font-size="32.89" text-anchor="start" fill="#ff0000">31</text>
<text transform="translate(1675.67 313.01) rotate(-90) scale(0.827 1)" font-size="33.47" text-anchor="start" fill="#ff0000">,</text>
<text transform="translate(1676 303.17) rotate(-90) scale(1.499 1)" font-size="30.75" text-anchor="start" fill="#ff0000" font-weight="normal" font-style="italic">f</text>
<text transform="translate(1662.71 287.87) rotate(-90) scale(1.000 1)" font-size="46.5" text-anchor="start" fill="#ff0000">|</text>
<text transform="translate(1662.44 277.24) rotate(-90) scale(1.081 1)" font-size="46.1" text-anchor="start" fill="#ff0000">(</text>
<text transform="translate(1662.68 262) rotate(-90) scale(0.994 1)" font-size="48.37" text-anchor="start" fill="#ff0000">C</text>
<text transform="translate(1662.18 227.06) rotate(-90) scale(0.829 1)" font-size="48.17" text-anchor="start" fill="#ff0000">/</text>
<text transform="translate(1662.45 215.05) rotate(-90) scale(0.992 1)" font-size="44.99" text-anchor="start" fill="#ff0000">m</text>
<text transform="translate(1646.55 176.7) rotate(-90) scale(1.130 1)" font-size="24.32" text-anchor="start" fill="#ff0000">2</text>
<text transform="translate(1662.13 163.61) rotate(-90) scale(1.057 1)" font-size="45.66" text-anchor="start" fill="#ff0000">)</text>
</g>
<circle cx="1263.3" cy="400.5" r="2.5" fill="#545454"/>
<circle cx="1295.4" cy="400.5" r="2.5" fill="#545454"/>
<rect x="1276.2" y="393" width="15" height="15" fill="#545454"/>
<text transform="translate(1309.3 407.6) scale(1.105 1)" font-size="18.6" text-anchor="start">0%  TD</text>
<line x1="1395.2" y1="399.9" x2="1402.4" y2="399.9" stroke="#545454" stroke-width="5.1" stroke-linecap="round"/>
<line x1="1425" y1="399.9" x2="1431.5" y2="399.9" stroke="#545454" stroke-width="5.1" stroke-linecap="round"/>
<rect x="1406.1" y="392.4" width="15" height="15" fill="#545454"/>
<text transform="translate(1436.5 406.8)" font-size="18.6" text-anchor="start">0%</text>
<text transform="translate(1473.9 407.4)" font-size="18.6" text-anchor="start"><tspan x="0" font-weight="normal">|</tspan><tspan x="3.6" font-style="italic" font-size="17.8">e</tspan><tspan x="11.8" dy="4.3" font-size="12">31,</tspan><tspan x="29.8" font-size="12" font-style="italic" font-weight="normal">f</tspan><tspan x="34.6" dy="-4.3" font-weight="normal">|</tspan></text>
<circle cx="1263.3" cy="425.55" r="2.5" fill="#f14040"/>
<circle cx="1295.4" cy="425.55" r="2.5" fill="#f14040"/>
<polygon points="1273.5,419.66 1293.9,419.66 1283.7,437.33" fill="#f14040"/>
<text transform="translate(1309.3 432.65) scale(1.105 1)" font-size="18.6" text-anchor="start">3%  TD</text>
<line x1="1395.2" y1="426.05" x2="1402.4" y2="426.05" stroke="#f14040" stroke-width="5.1" stroke-linecap="round"/>
<line x1="1425" y1="426.05" x2="1431.5" y2="426.05" stroke="#f14040" stroke-width="5.1" stroke-linecap="round"/>
<polygon points="1403.4,420.16 1423.8,420.16 1413.6,437.83" fill="#f14040"/>
<text transform="translate(1436.5 432.95)" font-size="18.6" text-anchor="start">3%</text>
<text transform="translate(1473.9 433.55)" font-size="18.6" text-anchor="start"><tspan x="0" font-weight="normal">|</tspan><tspan x="3.6" font-style="italic" font-size="17.8">e</tspan><tspan x="11.8" dy="4.3" font-size="12">31,</tspan><tspan x="29.8" font-size="12" font-style="italic" font-weight="normal">f</tspan><tspan x="34.6" dy="-4.3" font-weight="normal">|</tspan></text>
<circle cx="1263.3" cy="450.6" r="2.5" fill="#cc9900"/>
<circle cx="1295.4" cy="450.6" r="2.5" fill="#cc9900"/>
<polygon points="1289.47,440.6 1289.47,460.6 1272.15,450.6" fill="#cc9900"/>
<text transform="translate(1309.3 457.7) scale(1.105 1)" font-size="18.6" text-anchor="start">5%  TD</text>
<line x1="1395.2" y1="452.2" x2="1402.4" y2="452.2" stroke="#cc9900" stroke-width="5.1" stroke-linecap="round"/>
<line x1="1425" y1="452.2" x2="1431.5" y2="452.2" stroke="#cc9900" stroke-width="5.1" stroke-linecap="round"/>
<polygon points="1419.37,442.2 1419.37,462.2 1402.05,452.2" fill="#cc9900"/>
<text transform="translate(1436.5 459.1)" font-size="18.6" text-anchor="start">5%</text>
<text transform="translate(1473.9 459.7)" font-size="18.6" text-anchor="start"><tspan x="0" font-weight="normal">|</tspan><tspan x="3.6" font-style="italic" font-size="17.8">e</tspan><tspan x="11.8" dy="4.3" font-size="12">31,</tspan><tspan x="29.8" font-size="12" font-style="italic" font-weight="normal">f</tspan><tspan x="34.6" dy="-4.3" font-weight="normal">|</tspan></text>
<circle cx="1263.3" cy="475.65" r="2.5" fill="#8b8b00"/>
<circle cx="1295.4" cy="475.65" r="2.5" fill="#8b8b00"/>
<polygon points="1283.7,465.85 1285.9,472.62 1293.02,472.62 1287.26,476.81 1289.46,483.58 1283.7,479.39 1277.94,483.58 1280.14,476.81 1274.38,472.62 1281.5,472.62" fill="#8b8b00"/>
<text transform="translate(1309.3 482.75) scale(1.105 1)" font-size="18.6" text-anchor="start">10%  TD</text>
<line x1="1395.2" y1="478.35" x2="1402.4" y2="478.35" stroke="#8b8b00" stroke-width="5.1" stroke-linecap="round"/>
<line x1="1425" y1="478.35" x2="1431.5" y2="478.35" stroke="#8b8b00" stroke-width="5.1" stroke-linecap="round"/>
<polygon points="1413.6,468.55 1415.8,475.32 1422.92,475.32 1417.16,479.51 1419.36,486.28 1413.6,482.09 1407.84,486.28 1410.04,479.51 1404.28,475.32 1411.4,475.32" fill="#8b8b00"/>
<text transform="translate(1436.5 485.25)" font-size="18.6" text-anchor="start">10%</text>
<text transform="translate(1483.5 485.85)" font-size="18.6" text-anchor="start"><tspan x="0" font-weight="normal">|</tspan><tspan x="3.6" font-style="italic" font-size="17.8">e</tspan><tspan x="11.8" dy="4.3" font-size="12">31,</tspan><tspan x="29.8" font-size="12" font-style="italic" font-weight="normal">f</tspan><tspan x="34.6" dy="-4.3" font-weight="normal">|</tspan></text>
<text transform="translate(773.6 37.8) scale(1.045 1)" font-size="42.2" text-anchor="start" font-weight="normal">(b)</text>
<g>
<line x1="202.66" y1="1085.41" x2="223.12" y2="1082.42" stroke="#ff0000" stroke-width="5.6" stroke-linecap="round"/>
<line x1="244.92" y1="1070.38" x2="274.42" y2="1035.89" stroke="#ff0000" stroke-width="5.6" stroke-linecap="round"/>
<line x1="287.36" y1="1013.2" x2="325.54" y2="901.59" stroke="#ff0000" stroke-width="5.6" stroke-linecap="round"/>
<line x1="334.35" y1="901.51" x2="372.11" y2="1006.43" stroke="#ff0000" stroke-width="5.6" stroke-linecap="round"/>
<line x1="387.36" y1="1026.79" x2="412.66" y2="1045.29" stroke="#ff0000" stroke-width="5.6" stroke-linecap="round"/>
<line x1="435.58" y1="1058.48" x2="458" y2="1068.31" stroke="#ff0000" stroke-width="5.6" stroke-linecap="round"/>
<line x1="482.95" y1="1077.39" x2="550.97" y2="1097.28" stroke="#ff0000" stroke-width="5.6" stroke-linecap="round"/>
<line x1="576.73" y1="1103.86" x2="644.31" y2="1118.68" stroke="#ff0000" stroke-width="5.6" stroke-linecap="round"/>
<polygon points="189.5,1076.43 199.3,1087.33 189.5,1098.23 179.7,1087.33" fill="#fff" stroke="#ff0000" stroke-width="1.3" stroke-linejoin="miter"/>
<polygon points="189.5,1076.43 179.7,1087.33 189.5,1098.23" fill="#ff0000" stroke="#ff0000" stroke-width="1.3" stroke-linejoin="miter"/>
<polygon points="236.28,1069.59 246.08,1080.49 236.28,1091.39 226.48,1080.49" fill="#fff" stroke="#ff0000" stroke-width="1.3" stroke-linejoin="miter"/>
<polygon points="236.28,1069.59 226.48,1080.49 236.28,1091.39" fill="#ff0000" stroke="#ff0000" stroke-width="1.3" stroke-linejoin="miter"/>
<polygon points="283.06,1014.88 292.86,1025.78 283.06,1036.68 273.26,1025.78" fill="#fff" stroke="#ff0000" stroke-width="1.3" stroke-linejoin="miter"/>
<polygon points="283.06,1014.88 273.26,1025.78 283.06,1036.68" fill="#ff0000" stroke="#ff0000" stroke-width="1.3" stroke-linejoin="miter"/>
<polygon points="329.84,878.1 339.64,889 329.84,899.9 320.04,889" fill="#fff" stroke="#ff0000" stroke-width="1.3" stroke-linejoin="miter"/>
<polygon points="329.84,878.1 320.04,889 329.84,899.9" fill="#ff0000" stroke="#ff0000" stroke-width="1.3" stroke-linejoin="miter"/>
<polygon points="376.62,1008.04 386.42,1018.94 376.62,1029.84 366.82,1018.94" fill="#fff" stroke="#ff0000" stroke-width="1.3" stroke-linejoin="miter"/>
<polygon points="376.62,1008.04 366.82,1018.94 376.62,1029.84" fill="#ff0000" stroke="#ff0000" stroke-width="1.3" stroke-linejoin="miter"/>
<polygon points="423.4,1042.24 433.2,1053.14 423.4,1064.04 413.6,1053.14" fill="#fff" stroke="#ff0000" stroke-width="1.3" stroke-linejoin="miter"/>
<polygon points="423.4,1042.24 413.6,1053.14 423.4,1064.04" fill="#ff0000" stroke="#ff0000" stroke-width="1.3" stroke-linejoin="miter"/>
<polygon points="470.18,1062.75 479.98,1073.65 470.18,1084.55 460.38,1073.65" fill="#fff" stroke="#ff0000" stroke-width="1.3" stroke-linejoin="miter"/>
<polygon points="470.18,1062.75 460.38,1073.65 470.18,1084.55" fill="#ff0000" stroke="#ff0000" stroke-width="1.3" stroke-linejoin="miter"/>
<polygon points="563.74,1090.11 573.54,1101.01 563.74,1111.91 553.94,1101.01" fill="#fff" stroke="#ff0000" stroke-width="1.3" stroke-linejoin="miter"/>
<polygon points="563.74,1090.11 553.94,1101.01 563.74,1111.91" fill="#ff0000" stroke="#ff0000" stroke-width="1.3" stroke-linejoin="miter"/>
<polygon points="657.3,1110.63 667.1,1121.53 657.3,1132.43 647.5,1121.53" fill="#fff" stroke="#ff0000" stroke-width="1.3" stroke-linejoin="miter"/>
<polygon points="657.3,1110.63 647.5,1121.53 657.3,1132.43" fill="#ff0000" stroke="#ff0000" stroke-width="1.3" stroke-linejoin="miter"/>
</g>
<g>
<line x1="197.36" y1="950.76" x2="228.42" y2="993.13" stroke="#000080" stroke-width="5.6" stroke-linecap="round"/>
<line x1="249.58" y1="1004.2" x2="269.76" y2="1004.71" stroke="#000080" stroke-width="5.6" stroke-linecap="round"/>
<line x1="287" y1="992.35" x2="325.9" y2="866.97" stroke="#000080" stroke-width="5.6" stroke-linecap="round"/>
<line x1="334.75" y1="866.63" x2="371.71" y2="959.59" stroke="#000080" stroke-width="5.6" stroke-linecap="round"/>
<line x1="389.71" y1="974.29" x2="410.31" y2="977.98" stroke="#000080" stroke-width="5.6" stroke-linecap="round"/>
<line x1="436.5" y1="982.61" x2="457.08" y2="986.21" stroke="#000080" stroke-width="5.6" stroke-linecap="round"/>
<line x1="483.45" y1="989.4" x2="550.47" y2="993.98" stroke="#000080" stroke-width="5.6" stroke-linecap="round"/>
<line x1="576.05" y1="989.84" x2="644.99" y2="961.62" stroke="#000080" stroke-width="5.6" stroke-linecap="round"/>
<polygon points="189.5,929.13 199.3,940.03 189.5,950.93 179.7,940.03" fill="#fff" stroke="#000080" stroke-width="1.3" stroke-linejoin="miter"/>
<polygon points="189.5,929.13 199.3,940.03 189.5,950.93" fill="#000080" stroke="#000080" stroke-width="1.3" stroke-linejoin="miter"/>
<polygon points="236.28,992.96 246.08,1003.86 236.28,1014.76 226.48,1003.86" fill="#fff" stroke="#000080" stroke-width="1.3" stroke-linejoin="miter"/>
<polygon points="236.28,992.96 246.08,1003.86 236.28,1014.76" fill="#000080" stroke="#000080" stroke-width="1.3" stroke-linejoin="miter"/>
<polygon points="283.06,994.15 292.86,1005.05 283.06,1015.95 273.26,1005.05" fill="#fff" stroke="#000080" stroke-width="1.3" stroke-linejoin="miter"/>
<polygon points="283.06,994.15 292.86,1005.05 283.06,1015.95" fill="#000080" stroke="#000080" stroke-width="1.3" stroke-linejoin="miter"/>
<polygon points="329.84,843.37 339.64,854.27 329.84,865.17 320.04,854.27" fill="#fff" stroke="#000080" stroke-width="1.3" stroke-linejoin="miter"/>
<polygon points="329.84,843.37 339.64,854.27 329.84,865.17" fill="#000080" stroke="#000080" stroke-width="1.3" stroke-linejoin="miter"/>
<polygon points="376.62,961.04 386.42,971.94 376.62,982.84 366.82,971.94" fill="#fff" stroke="#000080" stroke-width="1.3" stroke-linejoin="miter"/>
<polygon points="376.62,961.04 386.42,971.94 376.62,982.84" fill="#000080" stroke="#000080" stroke-width="1.3" stroke-linejoin="miter"/>
<polygon points="423.4,969.42 433.2,980.32 423.4,991.22 413.6,980.32" fill="#fff" stroke="#000080" stroke-width="1.3" stroke-linejoin="miter"/>
<polygon points="423.4,969.42 433.2,980.32 423.4,991.22" fill="#000080" stroke="#000080" stroke-width="1.3" stroke-linejoin="miter"/>
<polygon points="470.18,977.6 479.98,988.5 470.18,999.4 460.38,988.5" fill="#fff" stroke="#000080" stroke-width="1.3" stroke-linejoin="miter"/>
<polygon points="470.18,977.6 479.98,988.5 470.18,999.4" fill="#000080" stroke="#000080" stroke-width="1.3" stroke-linejoin="miter"/>
<polygon points="563.74,983.98 573.54,994.88 563.74,1005.78 553.94,994.88" fill="#fff" stroke="#000080" stroke-width="1.3" stroke-linejoin="miter"/>
<polygon points="563.74,983.98 573.54,994.88 563.74,1005.78" fill="#000080" stroke="#000080" stroke-width="1.3" stroke-linejoin="miter"/>
<polygon points="657.3,945.69 667.1,956.59 657.3,967.49 647.5,956.59" fill="#fff" stroke="#000080" stroke-width="1.3" stroke-linejoin="miter"/>
<polygon points="657.3,945.69 667.1,956.59 657.3,967.49" fill="#000080" stroke="#000080" stroke-width="1.3" stroke-linejoin="miter"/>
</g>
<line x1="189.5" y1="1169.4" x2="189.5" y2="1164.2" stroke="#000000" stroke-width="5.1" />
<line x1="283.06" y1="1169.4" x2="283.06" y2="1164.2" stroke="#000000" stroke-width="5.1" />
<line x1="376.62" y1="1169.4" x2="376.62" y2="1164.2" stroke="#000000" stroke-width="5.1" />
<line x1="470.18" y1="1169.4" x2="470.18" y2="1164.2" stroke="#000000" stroke-width="5.1" />
<line x1="563.74" y1="1169.4" x2="563.74" y2="1164.2" stroke="#000000" stroke-width="5.1" />
<line x1="657.3" y1="1169.4" x2="657.3" y2="1164.2" stroke="#000000" stroke-width="5.1" />
<line x1="142.5" y1="690.7" x2="704.5" y2="690.7" stroke="#000000" stroke-width="5.1" />
<line x1="142.5" y1="1169.4" x2="147.7" y2="1169.4" stroke="#ff0000" stroke-width="5" />
<line x1="142.5" y1="1101.01" x2="147.7" y2="1101.01" stroke="#ff0000" stroke-width="5" />
<line x1="142.5" y1="1032.62" x2="147.7" y2="1032.62" stroke="#ff0000" stroke-width="5" />
<line x1="142.5" y1="964.23" x2="147.7" y2="964.23" stroke="#ff0000" stroke-width="5" />
<line x1="142.5" y1="895.84" x2="147.7" y2="895.84" stroke="#ff0000" stroke-width="5" />
<line x1="142.5" y1="827.45" x2="147.7" y2="827.45" stroke="#ff0000" stroke-width="5" />
<line x1="142.5" y1="759.06" x2="147.7" y2="759.06" stroke="#ff0000" stroke-width="5" />
<line x1="142.5" y1="690.67" x2="147.7" y2="690.67" stroke="#ff0000" stroke-width="5" />
<line x1="142.5" y1="688.2" x2="142.5" y2="1171.9" stroke="#ff0000" stroke-width="4.7" />
<line x1="141.3" y1="1169.4" x2="702.1" y2="1169.4" stroke="#000000" stroke-width="5.1" />
<line x1="704.5" y1="1169.4" x2="699.3" y2="1169.4" stroke="#000080" stroke-width="5" />
<line x1="704.5" y1="1089.62" x2="699.3" y2="1089.62" stroke="#000080" stroke-width="5" />
<line x1="704.5" y1="1009.84" x2="699.3" y2="1009.84" stroke="#000080" stroke-width="5" />
<line x1="704.5" y1="930.06" x2="699.3" y2="930.06" stroke="#000080" stroke-width="5" />
<line x1="704.5" y1="850.28" x2="699.3" y2="850.28" stroke="#000080" stroke-width="5" />
<line x1="704.5" y1="770.5" x2="699.3" y2="770.5" stroke="#000080" stroke-width="5" />
<line x1="704.5" y1="690.72" x2="699.3" y2="690.72" stroke="#000080" stroke-width="5" />
<line x1="704.5" y1="688.2" x2="704.5" y2="1171.9" stroke="#000080" stroke-width="5.3" />
<text transform="translate(189.5 1216.4) scale(0.935 1)" font-size="52.6">0</text>
<text transform="translate(283.06 1216.4) scale(0.935 1)" font-size="52.6">2</text>
<text transform="translate(376.62 1216.4) scale(0.935 1)" font-size="52.6">4</text>
<text transform="translate(470.18 1216.4) scale(0.935 1)" font-size="52.6">6</text>
<text transform="translate(563.74 1216.4) scale(0.935 1)" font-size="52.6">8</text>
<text transform="translate(657.3 1216.4) scale(0.935 1)" font-size="52.6">10</text>
<text transform="translate(135.4 1185.4) scale(0.925 1)" font-size="52.7" fill="#ff0000" text-anchor="end">0.6</text>
<text transform="translate(135.4 1117.01) scale(0.925 1)" font-size="52.7" fill="#ff0000" text-anchor="end">0.7</text>
<text transform="translate(135.4 1048.62) scale(0.925 1)" font-size="52.7" fill="#ff0000" text-anchor="end">0.8</text>
<text transform="translate(135.4 980.23) scale(0.925 1)" font-size="52.7" fill="#ff0000" text-anchor="end">0.9</text>
<text transform="translate(135.4 911.84) scale(0.925 1)" font-size="52.7" fill="#ff0000" text-anchor="end">1.0</text>
<text transform="translate(135.4 843.45) scale(0.925 1)" font-size="52.7" fill="#ff0000" text-anchor="end">1.1</text>
<text transform="translate(135.4 775.06) scale(0.925 1)" font-size="52.7" fill="#ff0000" text-anchor="end">1.2</text>
<text transform="translate(135.4 706.67) scale(0.925 1)" font-size="52.7" fill="#ff0000" text-anchor="end">1.3</text>
<text transform="translate(710 1185.4) scale(0.935 1)" font-size="52.4" fill="#000080" text-anchor="start">0.0</text>
<text transform="translate(710 1105.62) scale(0.935 1)" font-size="52.4" fill="#000080" text-anchor="start">0.2</text>
<text transform="translate(710 1025.84) scale(0.935 1)" font-size="52.4" fill="#000080" text-anchor="start">0.4</text>
<text transform="translate(710 946.06) scale(0.935 1)" font-size="52.4" fill="#000080" text-anchor="start">0.6</text>
<text transform="translate(710 866.28) scale(0.935 1)" font-size="52.4" fill="#000080" text-anchor="start">0.8</text>
<text transform="translate(710 786.5) scale(0.935 1)" font-size="52.4" fill="#000080" text-anchor="start">1.0</text>
<text transform="translate(710 706.72) scale(0.935 1)" font-size="52.4" fill="#000080" text-anchor="start">1.2</text>
<text transform="translate(423.1 1264.4) scale(0.929 1)" font-size="53.3">Zr content(%)</text>
<g>
<text transform="translate(49.14 1092.87) rotate(-90) scale(1.000 1)" font-size="53.32" text-anchor="start" fill="#ff0000">|</text>
<text transform="translate(49.23 1080.78) rotate(-90) scale(1.150 1)" font-size="53.02" text-anchor="start" fill="#ff0000" font-style="italic">e</text>
<text transform="translate(63.49 1055.15) rotate(-90) scale(0.933 1)" font-size="37.06" text-anchor="start" fill="#ff0000">31</text>
<text transform="translate(64.36 1015.5) rotate(-90) scale(0.752 1)" font-size="35.46" text-anchor="start" fill="#ff0000">,</text>
<text transform="translate(63.79 1002.22) rotate(-90) scale(1.652 1)" font-size="35.99" text-anchor="start" fill="#ff0000" font-weight="normal" font-style="italic">f</text>
<text transform="translate(49.14 981.92) rotate(-90) scale(1.000 1)" font-size="53.32" text-anchor="start" fill="#ff0000">|</text>
<text transform="translate(48.57 969.65) rotate(-90) scale(1.163 1)" font-size="46.87" text-anchor="start" fill="#ff0000">(</text>
<text transform="translate(49.26 951.67) rotate(-90) scale(1.068 1)" font-size="50.16" text-anchor="start" fill="#ff0000">C</text>
<text transform="translate(49.16 913.03) rotate(-90) scale(0.848 1)" font-size="50.27" text-anchor="start" fill="#ff0000">/</text>
<text transform="translate(49.25 898.99) rotate(-90) scale(1.067 1)" font-size="46.9" text-anchor="start" fill="#ff0000">m</text>
<text transform="translate(28.85 855.9) rotate(-90) scale(0.960 1)" font-size="33.38" text-anchor="start" fill="#ff0000">2</text>
<text transform="translate(48.57 839.99) rotate(-90) scale(1.155 1)" font-size="46.87" text-anchor="start" fill="#ff0000">)</text>
</g>
<g>
<text transform="translate(828.3 1233) rotate(-90) scale(1.04 1)" font-size="50" fill="#000080" text-anchor="start">Signal−to noise ratio(C/m</text>
<text transform="translate(807.25 661.87) rotate(-90) scale(1.029 1)" font-size="32.77" text-anchor="start" fill="#000080">2</text>
<text transform="translate(827.22 644.73) rotate(-90) scale(1.118 1)" font-size="46.65" text-anchor="start" fill="#000080">)</text>
</g>
<line x1="165.8" y1="743.8" x2="181.3" y2="743.8" stroke="#ff0000" stroke-width="6" stroke-linecap="round"/>
<line x1="207.3" y1="743.8" x2="223" y2="743.8" stroke="#ff0000" stroke-width="6" stroke-linecap="round"/>
<polygon points="194.3,732.9 203.6,743.8 194.3,754.7 185,743.8" fill="#fff" stroke="#ff0000" stroke-width="1.3" stroke-linejoin="miter"/>
<polygon points="194.3,732.9 185,743.8 194.3,754.7" fill="#ff0000" stroke="#ff0000" stroke-width="1.3" stroke-linejoin="miter"/>
<line x1="165.8" y1="813.6" x2="181.3" y2="813.6" stroke="#000080" stroke-width="6" stroke-linecap="round"/>
<line x1="207.3" y1="813.6" x2="223" y2="813.6" stroke="#000080" stroke-width="6" stroke-linecap="round"/>
<polygon points="194.3,802.7 203.6,813.6 194.3,824.5 185,813.6" fill="#fff" stroke="#000080" stroke-width="1.3" stroke-linejoin="miter"/>
<polygon points="194.3,802.7 203.6,813.6 194.3,824.5" fill="#000080" stroke="#000080" stroke-width="1.3" stroke-linejoin="miter"/>
<text transform="translate(239 755.3) scale(0.95 1)" font-size="33.5" fill="#ff0000" text-anchor="start">|<tspan font-style="italic">e</tspan><tspan font-size="21" dy="7.5">31,</tspan><tspan font-size="22" font-style="italic" dx="4.5">f</tspan><tspan dy="-7.5" dx="1.5">|</tspan></text>
<text transform="translate(237.8 824) scale(0.93 1)" font-size="31.5" fill="#000080" text-anchor="start">Signal−to noise ratio</text>
<text transform="translate(28 613.6) scale(1.05 1)" font-size="41.5" text-anchor="start" font-weight="normal">(c)</text>
<g>
<line x1="1038.46" y1="1059.11" x2="1057.11" y2="1053.89" stroke="#ff0000" stroke-width="6" stroke-linecap="round"/>
<line x1="1079.51" y1="1038.18" x2="1109.2" y2="996.74" stroke="#ff0000" stroke-width="6" stroke-linecap="round"/>
<line x1="1120.69" y1="970.78" x2="1161.16" y2="782.47" stroke="#ff0000" stroke-width="6" stroke-linecap="round"/>
<line x1="1167.46" y1="782.43" x2="1207.53" y2="956.58" stroke="#ff0000" stroke-width="6" stroke-linecap="round"/>
<line x1="1219.96" y1="981.94" x2="1248.17" y2="1016.44" stroke="#ff0000" stroke-width="6" stroke-linecap="round"/>
<line x1="1270.3" y1="1034.2" x2="1290.97" y2="1044.63" stroke="#ff0000" stroke-width="6" stroke-linecap="round"/>
<line x1="1317.52" y1="1056.18" x2="1383.46" y2="1080.54" stroke="#ff0000" stroke-width="6" stroke-linecap="round"/>
<line x1="1410.91" y1="1089.87" x2="1476.35" y2="1110.21" stroke="#ff0000" stroke-width="6" stroke-linecap="round"/>
<polygon points="1024.5,1050.72 1035.7,1063.02 1024.5,1075.32 1013.3,1063.02" fill="#fff" stroke="#ff0000" stroke-width="1.3" stroke-linejoin="miter"/>
<polygon points="1024.5,1050.72 1013.3,1063.02 1024.5,1075.32" fill="#ff0000" stroke="#ff0000" stroke-width="1.3" stroke-linejoin="miter"/>
<polygon points="1071.07,1037.67 1082.27,1049.97 1071.07,1062.27 1059.87,1049.97" fill="#fff" stroke="#ff0000" stroke-width="1.3" stroke-linejoin="miter"/>
<polygon points="1071.07,1037.67 1059.87,1049.97 1071.07,1062.27" fill="#ff0000" stroke="#ff0000" stroke-width="1.3" stroke-linejoin="miter"/>
<polygon points="1117.64,972.65 1128.84,984.95 1117.64,997.25 1106.44,984.95" fill="#fff" stroke="#ff0000" stroke-width="1.3" stroke-linejoin="miter"/>
<polygon points="1117.64,972.65 1106.44,984.95 1117.64,997.25" fill="#ff0000" stroke="#ff0000" stroke-width="1.3" stroke-linejoin="miter"/>
<polygon points="1164.21,756 1175.41,768.3 1164.21,780.6 1153.01,768.3" fill="#fff" stroke="#ff0000" stroke-width="1.3" stroke-linejoin="miter"/>
<polygon points="1164.21,756 1153.01,768.3 1164.21,780.6" fill="#ff0000" stroke="#ff0000" stroke-width="1.3" stroke-linejoin="miter"/>
<polygon points="1210.78,958.41 1221.98,970.71 1210.78,983.01 1199.58,970.71" fill="#fff" stroke="#ff0000" stroke-width="1.3" stroke-linejoin="miter"/>
<polygon points="1210.78,958.41 1199.58,970.71 1210.78,983.01" fill="#ff0000" stroke="#ff0000" stroke-width="1.3" stroke-linejoin="miter"/>
<polygon points="1257.35,1015.37 1268.55,1027.67 1257.35,1039.97 1246.15,1027.67" fill="#fff" stroke="#ff0000" stroke-width="1.3" stroke-linejoin="miter"/>
<polygon points="1257.35,1015.37 1246.15,1027.67 1257.35,1039.97" fill="#ff0000" stroke="#ff0000" stroke-width="1.3" stroke-linejoin="miter"/>
<polygon points="1303.92,1038.86 1315.12,1051.16 1303.92,1063.46 1292.72,1051.16" fill="#fff" stroke="#ff0000" stroke-width="1.3" stroke-linejoin="miter"/>
<polygon points="1303.92,1038.86 1292.72,1051.16 1303.92,1063.46" fill="#ff0000" stroke="#ff0000" stroke-width="1.3" stroke-linejoin="miter"/>
<polygon points="1397.06,1073.27 1408.26,1085.57 1397.06,1097.87 1385.86,1085.57" fill="#fff" stroke="#ff0000" stroke-width="1.3" stroke-linejoin="miter"/>
<polygon points="1397.06,1073.27 1385.86,1085.57 1397.06,1097.87" fill="#ff0000" stroke="#ff0000" stroke-width="1.3" stroke-linejoin="miter"/>
<polygon points="1490.2,1102.22 1501.4,1114.52 1490.2,1126.82 1479,1114.52" fill="#fff" stroke="#ff0000" stroke-width="1.3" stroke-linejoin="miter"/>
<polygon points="1490.2,1102.22 1479,1114.52 1490.2,1126.82" fill="#ff0000" stroke="#ff0000" stroke-width="1.3" stroke-linejoin="miter"/>
</g>
<g>
<line x1="1031.39" y1="989.63" x2="1064.18" y2="1050.33" stroke="#000080" stroke-width="6" stroke-linecap="round"/>
<line x1="1085.46" y1="1064.89" x2="1103.25" y2="1067.11" stroke="#000080" stroke-width="6" stroke-linecap="round"/>
<line x1="1120.01" y1="1054.6" x2="1161.84" y2="802.26" stroke="#000080" stroke-width="6" stroke-linecap="round"/>
<line x1="1166.96" y1="802.19" x2="1208.03" y2="1015.19" stroke="#000080" stroke-width="6" stroke-linecap="round"/>
<line x1="1225.02" y1="1026.69" x2="1243.11" y2="1023.2" stroke="#000080" stroke-width="6" stroke-linecap="round"/>
<line x1="1270.86" y1="1025.73" x2="1290.41" y2="1033.36" stroke="#000080" stroke-width="6" stroke-linecap="round"/>
<line x1="1318.25" y1="1040.85" x2="1382.73" y2="1050.84" stroke="#000080" stroke-width="6" stroke-linecap="round"/>
<line x1="1409.71" y1="1045.97" x2="1477.55" y2="1007.89" stroke="#000080" stroke-width="6" stroke-linecap="round"/>
<polygon points="1024.5,964.57 1035.7,976.87 1024.5,989.17 1013.3,976.87" fill="#fff" stroke="#000080" stroke-width="1.3" stroke-linejoin="miter"/>
<polygon points="1024.5,964.57 1035.7,976.87 1024.5,989.17" fill="#000080" stroke="#000080" stroke-width="1.3" stroke-linejoin="miter"/>
<polygon points="1071.07,1050.79 1082.27,1063.09 1071.07,1075.39 1059.87,1063.09" fill="#fff" stroke="#000080" stroke-width="1.3" stroke-linejoin="miter"/>
<polygon points="1071.07,1050.79 1082.27,1063.09 1071.07,1075.39" fill="#000080" stroke="#000080" stroke-width="1.3" stroke-linejoin="miter"/>
<polygon points="1117.64,1056.6 1128.84,1068.9 1117.64,1081.2 1106.44,1068.9" fill="#fff" stroke="#000080" stroke-width="1.3" stroke-linejoin="miter"/>
<polygon points="1117.64,1056.6 1128.84,1068.9 1117.64,1081.2" fill="#000080" stroke="#000080" stroke-width="1.3" stroke-linejoin="miter"/>
<polygon points="1164.21,775.65 1175.41,787.95 1164.21,800.25 1153.01,787.95" fill="#fff" stroke="#000080" stroke-width="1.3" stroke-linejoin="miter"/>
<polygon points="1164.21,775.65 1175.41,787.95 1164.21,800.25" fill="#000080" stroke="#000080" stroke-width="1.3" stroke-linejoin="miter"/>
<polygon points="1210.78,1017.13 1221.98,1029.43 1210.78,1041.73 1199.58,1029.43" fill="#fff" stroke="#000080" stroke-width="1.3" stroke-linejoin="miter"/>
<polygon points="1210.78,1017.13 1221.98,1029.43 1210.78,1041.73" fill="#000080" stroke="#000080" stroke-width="1.3" stroke-linejoin="miter"/>
<polygon points="1257.35,1008.16 1268.55,1020.46 1257.35,1032.76 1246.15,1020.46" fill="#fff" stroke="#000080" stroke-width="1.3" stroke-linejoin="miter"/>
<polygon points="1257.35,1008.16 1268.55,1020.46 1257.35,1032.76" fill="#000080" stroke="#000080" stroke-width="1.3" stroke-linejoin="miter"/>
<polygon points="1303.92,1026.33 1315.12,1038.63 1303.92,1050.93 1292.72,1038.63" fill="#fff" stroke="#000080" stroke-width="1.3" stroke-linejoin="miter"/>
<polygon points="1303.92,1026.33 1315.12,1038.63 1303.92,1050.93" fill="#000080" stroke="#000080" stroke-width="1.3" stroke-linejoin="miter"/>
<polygon points="1397.06,1040.76 1408.26,1053.06 1397.06,1065.36 1385.86,1053.06" fill="#fff" stroke="#000080" stroke-width="1.3" stroke-linejoin="miter"/>
<polygon points="1397.06,1040.76 1408.26,1053.06 1397.06,1065.36" fill="#000080" stroke="#000080" stroke-width="1.3" stroke-linejoin="miter"/>
<polygon points="1490.2,988.5 1501.4,1000.8 1490.2,1013.1 1479,1000.8" fill="#fff" stroke="#000080" stroke-width="1.3" stroke-linejoin="miter"/>
<polygon points="1490.2,988.5 1501.4,1000.8 1490.2,1013.1" fill="#000080" stroke="#000080" stroke-width="1.3" stroke-linejoin="miter"/>
</g>
<line x1="1024.5" y1="1165.3" x2="1024.5" y2="1159.5" stroke="#000000" stroke-width="5.1" />
<line x1="1117.64" y1="1165.3" x2="1117.64" y2="1159.5" stroke="#000000" stroke-width="5.1" />
<line x1="1210.78" y1="1165.3" x2="1210.78" y2="1159.5" stroke="#000000" stroke-width="5.1" />
<line x1="1303.92" y1="1165.3" x2="1303.92" y2="1159.5" stroke="#000000" stroke-width="5.1" />
<line x1="1397.06" y1="1165.3" x2="1397.06" y2="1159.5" stroke="#000000" stroke-width="5.1" />
<line x1="1490.2" y1="1165.3" x2="1490.2" y2="1159.5" stroke="#000000" stroke-width="5.1" />
<line x1="978.8" y1="680.9" x2="1536.7" y2="680.9" stroke="#000000" stroke-width="5.6" />
<line x1="978.8" y1="1165.3" x2="984.2" y2="1165.3" stroke="#ff0000" stroke-width="5" />
<line x1="978.8" y1="1046.65" x2="984.2" y2="1046.65" stroke="#ff0000" stroke-width="5" />
<line x1="978.8" y1="928" x2="984.2" y2="928" stroke="#ff0000" stroke-width="5" />
<line x1="978.8" y1="809.35" x2="984.2" y2="809.35" stroke="#ff0000" stroke-width="5" />
<line x1="978.8" y1="690.7" x2="984.2" y2="690.7" stroke="#ff0000" stroke-width="5" />
<line x1="978.8" y1="678.1" x2="978.8" y2="1168.1" stroke="#ff0000" stroke-width="6" />
<line x1="977.8" y1="1165.3" x2="1534.1" y2="1165.3" stroke="#000000" stroke-width="5.6" />
<line x1="1536.7" y1="1165.3" x2="1530.7" y2="1165.3" stroke="#000080" stroke-width="5.2" />
<line x1="1536.7" y1="1068.42" x2="1530.7" y2="1068.42" stroke="#000080" stroke-width="5.2" />
<line x1="1536.7" y1="971.54" x2="1530.7" y2="971.54" stroke="#000080" stroke-width="5.2" />
<line x1="1536.7" y1="874.66" x2="1530.7" y2="874.66" stroke="#000080" stroke-width="5.2" />
<line x1="1536.7" y1="777.78" x2="1530.7" y2="777.78" stroke="#000080" stroke-width="5.2" />
<line x1="1536.7" y1="680.9" x2="1530.7" y2="680.9" stroke="#000080" stroke-width="5.2" />
<line x1="1536.7" y1="678.1" x2="1536.7" y2="1168.1" stroke="#000080" stroke-width="5.3" />
<text transform="translate(1024.8 1215.6) scale(0.93 1)" font-size="56">0</text>
<text transform="translate(1117.94 1215.6) scale(0.93 1)" font-size="56">2</text>
<text transform="translate(1211.08 1215.6) scale(0.93 1)" font-size="56">4</text>
<text transform="translate(1304.22 1215.6) scale(0.93 1)" font-size="56">6</text>
<text transform="translate(1397.36 1215.6) scale(0.93 1)" font-size="56">8</text>
<text transform="translate(1490.5 1215.6) scale(0.93 1)" font-size="56">10</text>
<text transform="translate(970.8 1183.6) scale(0.93 1)" font-size="56" fill="#ff0000" text-anchor="end">100</text>
<text transform="translate(970.8 1064.95) scale(0.93 1)" font-size="56" fill="#ff0000" text-anchor="end">150</text>
<text transform="translate(970.8 946.3) scale(0.93 1)" font-size="56" fill="#ff0000" text-anchor="end">200</text>
<text transform="translate(970.8 827.65) scale(0.93 1)" font-size="56" fill="#ff0000" text-anchor="end">250</text>
<text transform="translate(970.8 709) scale(0.93 1)" font-size="56" fill="#ff0000" text-anchor="end">300</text>
<text transform="translate(1542.4 1181.9) scale(0.935 1)" font-size="56.2" fill="#000080" text-anchor="start">0.0</text>
<text transform="translate(1542.4 1085.02) scale(0.935 1)" font-size="56.2" fill="#000080" text-anchor="start">0.2</text>
<text transform="translate(1542.4 988.14) scale(0.935 1)" font-size="56.2" fill="#000080" text-anchor="start">0.4</text>
<text transform="translate(1542.4 891.26) scale(0.935 1)" font-size="56.2" fill="#000080" text-anchor="start">0.6</text>
<text transform="translate(1542.4 794.38) scale(0.935 1)" font-size="56.2" fill="#000080" text-anchor="start">0.8</text>
<text transform="translate(1542.4 697.5) scale(0.935 1)" font-size="56.2" fill="#000080" text-anchor="start">1.0</text>
<text transform="translate(1257 1271.9) scale(0.94 1)" font-size="56">Zr content(%)</text>
<text transform="translate(878.4 948.8) rotate(-90) scale(1.082 1)" font-size="52.2" fill="#ff0000">Figure of merit(Mpa)</text>
<text transform="translate(1656.3 922.9) rotate(-90) scale(1.075 1)" font-size="52.4" fill="#000080">Power efficiency</text>
<line x1="1208.4" y1="736.9" x2="1227.6" y2="736.9" stroke="#ff0000" stroke-width="6.2" stroke-linecap="round"/>
<line x1="1254.6" y1="736.9" x2="1273.8" y2="736.9" stroke="#ff0000" stroke-width="6.2" stroke-linecap="round"/>
<polygon points="1241.1,725 1250.8,736.9 1241.1,748.8 1231.4,736.9" fill="#fff" stroke="#ff0000" stroke-width="1.3" stroke-linejoin="miter"/>
<polygon points="1241.1,725 1231.4,736.9 1241.1,748.8" fill="#ff0000" stroke="#ff0000" stroke-width="1.3" stroke-linejoin="miter"/>
<line x1="1208.4" y1="799.7" x2="1227.6" y2="799.7" stroke="#000080" stroke-width="6.2" stroke-linecap="round"/>
<line x1="1254.6" y1="799.7" x2="1273.8" y2="799.7" stroke="#000080" stroke-width="6.2" stroke-linecap="round"/>
<polygon points="1241.1,787.8 1250.8,799.7 1241.1,811.6 1231.4,799.7" fill="#fff" stroke="#000080" stroke-width="1.3" stroke-linejoin="miter"/>
<polygon points="1241.1,787.8 1250.8,799.7 1241.1,811.6" fill="#000080" stroke="#000080" stroke-width="1.3" stroke-linejoin="miter"/>
<text transform="translate(1291 749.6) scale(0.947 1)" font-size="34.8" fill="#ff0000" text-anchor="start">e−FOM</text>
<text transform="translate(1292 812.5) scale(0.942 1)" font-size="34.7" fill="#000080" text-anchor="start">Power efficiency</text>
<text transform="translate(773.8 613.7) scale(1.055 1)" font-size="41.5" text-anchor="start" font-weight="normal">(d)</text>
</g>
</svg>
</body>
</html>
